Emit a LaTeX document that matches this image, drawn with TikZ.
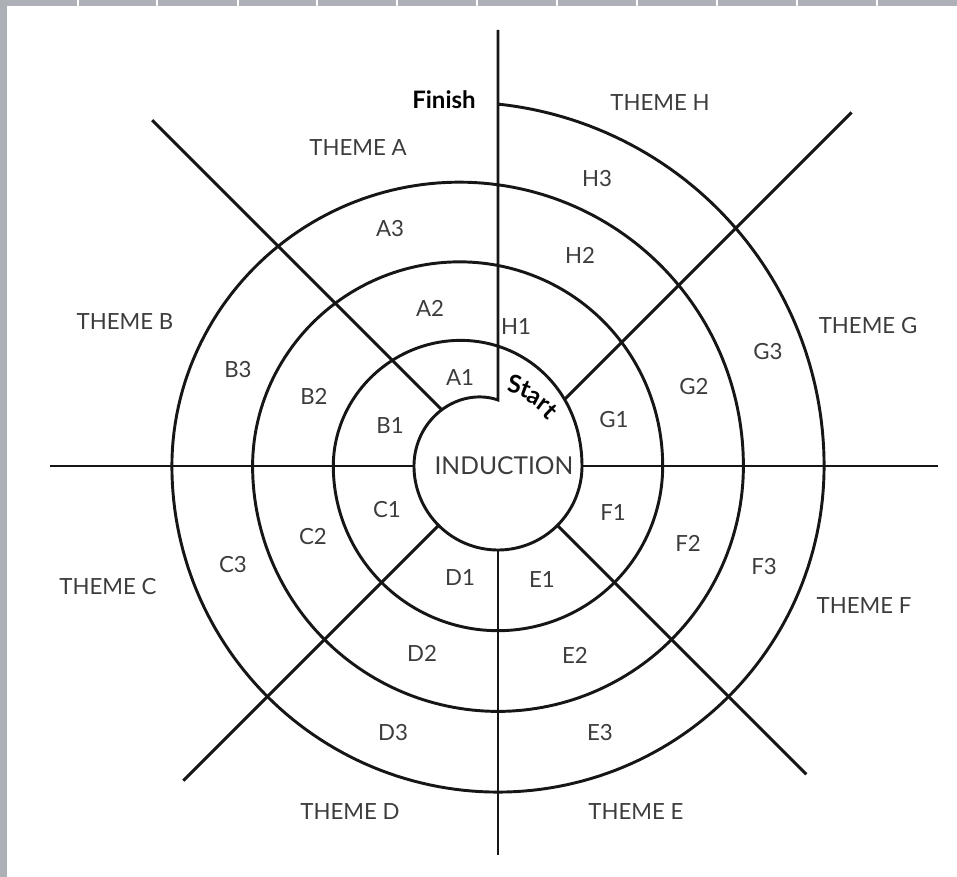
\documentclass[tikz,border=0pt]{standalone}
\usepackage{fontspec}
\newfontfamily\lblfont{Lato}
\definecolor{txtgray}{HTML}{3C3C3C}
\definecolor{linecol}{HTML}{161616}
\definecolor{framegray}{HTML}{ADB1B7}
\begin{document}
\begin{tikzpicture}[x=0.03cm,y=0.03cm,
  declare function={
    sst(\t)=\t*\t*(3-2*\t);
    skw(\t)=\t*(0.85+0.15*\t);
    hh(\p)=sst(skw(\p/180));
    nturn(\f)=floor(\f/360);
    pph(\f)=\f-360*nturn(\f);
    rlate(\f)=(pph(\f)<180) ? (84+80.7*(nturn(\f)-1+hh(pph(\f)))) : (84+80.7*nturn(\f));
    rsp(\f)=(\f<180) ? (84-18*((180-\f)/90)*((180-\f)/90)) : rlate(\f);
  },
  line/.style={draw=linecol, line width=2.5pt},
  lbl/.style={font=\lblfont\fontsize{19}{21}\selectfont, text=txtgray, inner sep=0pt},
  boldlbl/.style={font=\lblfont\bfseries\fontsize{20.5}{22}\selectfont, text=black, inner sep=0pt},
  startl/.style={font=\lblfont\bfseries\fontsize{21}{23}\selectfont, text=black, inner sep=0pt, anchor=base}]
\useasboundingbox (-498,-411) rectangle (459,466);
% screenshot frame
\fill[framegray] (-498,-411) rectangle (-491,466);
\fill[framegray] (-498,460) rectangle (459,466);
\foreach \xx in {78,157,238,317,397,477,557,637,717,797,877}
  \fill[white] (\xx-498-1,460) rectangle (\xx-498+1,466);
% named coordinates
\coordinate (s0) at (90:66);
\coordinate (top) at (90:436);
\coordinate (b0) at (270:84);
\coordinate (b1) at (270:389);
\coordinate (l0) at (180:84);
\coordinate (l1) at (180:448);
\coordinate (r0) at (0:84);
\coordinate (r1) at (0:440);
\coordinate (ne0) at (45:95);
\coordinate (ne1) at (45:500);
\coordinate (nw0) at (135:79.5);
\coordinate (nw1) at (135:489);
\coordinate (sw0) at (225:84);
\coordinate (sw1) at (225:445);
\coordinate (se0) at (315:84);
\coordinate (se1) at (315:436);
% spiral with start line
\draw[line, line join=miter] (top) -- (s0) -- plot[domain=90:1530, samples=961, variable=\a] (\a:{rsp(\a)});
% radial lines
\draw[line] (b0) -- (b1);
\draw[line] (l0) -- (l1);
\draw[line] (r0) -- (r1);
\draw[line] (ne0) -- (ne1);
\draw[line] (nw0) -- (nw1);
\draw[line] (sw0) -- (sw1);
\draw[line] (se0) -- (se1);
% labels
\node[boldlbl] (finish) at (-54,366) {Finish};
\node[startl, rotate=-12] (st1) at (78.5:75) {S};
\node[startl, rotate=-20] (st2) at (70.3:73) {t};
\node[startl, rotate=-28] (st3) at (62.0:71) {a};
\node[startl, rotate=-36.5] (st4) at (53.3:69) {r};
\node[startl, rotate=-44] (st5) at (45.8:67) {t};
\node[lbl, font=\lblfont\fontsize{21}{23}\selectfont] (induction) at (6,0) {INDUCTION};
\node[lbl] (thA) at (-140,318) {THEME A};
\node[lbl] (thB) at (-373,144) {THEME B};
\node[lbl] (thC) at (-390,-121) {THEME C};
\node[lbl] (thD) at (-148,-346) {THEME D};
\node[lbl] (thE) at (138,-346) {THEME E};
\node[lbl] (thF) at (366,-140) {THEME F};
\node[lbl] (thG) at (370,140) {THEME G};
\node[lbl] (thH) at (162,363) {THEME H};
\node[lbl] (A1) at (-38,88) {A1};
\node[lbl] (A2) at (-68,158) {A2};
\node[lbl] (A3) at (-108,237) {A3};
\node[lbl] (B1) at (-108,40) {B1};
\node[lbl] (B2) at (-184,70) {B2};
\node[lbl] (B3) at (-260,96) {B3};
\node[lbl] (C1) at (-111,-44) {C1};
\node[lbl] (C2) at (-185,-71) {C2};
\node[lbl] (C3) at (-265,-99) {C3};
\node[lbl] (D1) at (-38,-112) {D1};
\node[lbl] (D2) at (-76,-187) {D2};
\node[lbl] (D3) at (-105,-267) {D3};
\node[lbl] (E1) at (44,-114) {E1};
\node[lbl] (E2) at (77,-189) {E2};
\node[lbl] (E3) at (102,-267) {E3};
\node[lbl] (F1) at (115,-47) {F1};
\node[lbl] (F2) at (190,-77) {F2};
\node[lbl] (F3) at (266,-101) {F3};
\node[lbl] (G1) at (116,46) {G1};
\node[lbl] (G2) at (196,79) {G2};
\node[lbl] (G3) at (270,114) {G3};
\node[lbl] (H1) at (18,139) {H1};
\node[lbl] (H2) at (82,211) {H2};
\node[lbl] (H3) at (99,287) {H3};
\end{tikzpicture}
\end{document}
